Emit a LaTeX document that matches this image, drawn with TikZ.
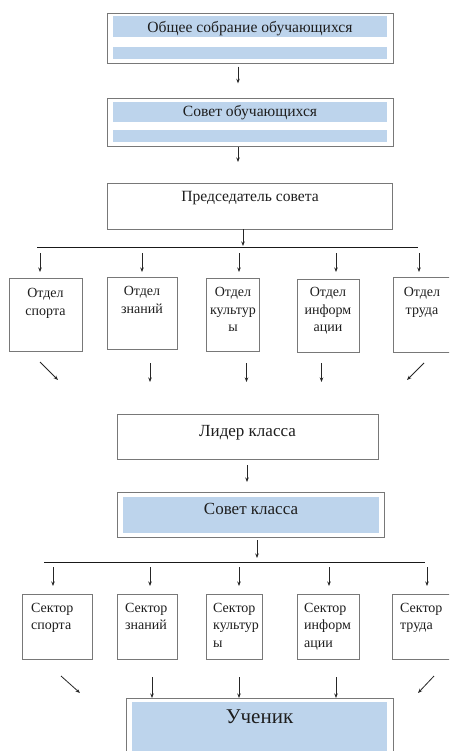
\documentclass[tikz,border=0pt]{standalone}
\usepackage{fontspec}
\setmainfont{Liberation Serif}
\usetikzlibrary{arrows.meta,fit}
\definecolor{lblue}{RGB}{189,212,236}
\definecolor{boxgray}{RGB}{120,120,120}
\definecolor{txtc}{RGB}{30,30,30}
\tikzset{
  box/.style={draw=boxgray, line width=0.9pt, inner sep=0pt},
  band/.style={fill=lblue, draw=none, inner sep=0pt},
  arr/.style={-{Stealth[length=4.5pt,width=3.5pt]}, line width=0.8pt, draw=black!85},
  bus/.style={line width=1.8pt, draw=black!90},
  txt/.style={anchor=base, inner sep=0pt, text=txtc, font=\fontsize{14}{16}\selectfont},
  ltxt/.style={txt, anchor=base west},
  mid/.style={txt, font=\fontsize{15.6}{18}\selectfont},
  mid2/.style={txt, font=\fontsize{17}{20}\selectfont},
  big/.style={txt, font=\fontsize{21}{24}\selectfont}
}
\begin{document}
\begin{tikzpicture}[x=1pt,y=-1pt]
\useasboundingbox (0,0) rectangle (449,751);
\clip (0,0) rectangle (449,751);
\fill[white] (0,0) rectangle (449,751);

% top box
\node[box, fit={(107,13.3) (393,63.3)}] (gen) {};
\node[band, fit={(113,15.7) (387,36.7)}] (genb1) {};
\node[band, fit={(113,46.7) (387,59.3)}] (genb2) {};
\node[mid] (gent) at (250,32.5) {Общее собрание обучающихся};

\coordinate (a1s) at (238,66.7);
\coordinate (a1e) at (238,83.3);
\draw[arr] (a1s) -- (a1e);

% council of students
\node[box, fit={(107,98.3) (393,146)}] (sov) {};
\node[band, fit={(113,101.7) (387,121.7)}] (sovb1) {};
\node[band, fit={(113,130) (387,141.7)}] (sovb2) {};
\node[mid] (sovt) at (250,117) {Совет обучающихся};

\coordinate (a2s) at (238,146.7);
\coordinate (a2e) at (238,162);
\draw[arr] (a2s) -- (a2e);

% chairman
\node[box, fit={(107,183) (392,229)}] (pred) {};
\node[mid] (predt) at (250,202) {Председатель совета};

\coordinate (a3s) at (243,229);
\coordinate (a3e) at (243,246);
\draw[arr] (a3s) -- (a3e);

\coordinate (busL) at (37,247.5);
\coordinate (busR) at (418,247.5);
\draw[bus] (busL) -- (busR);

% arrows to departments
\foreach \x/\n in {40/1,142/2,239/3,336/4,419/5}{
  \coordinate (d\n s) at (\x,253);
  \coordinate (d\n e) at (\x,272);
  \draw[arr] (d\n s) -- (d\n e);
}

% departments
\node[box, fit={(9,278) (82,351)}] (o1) {};
\node[box, fit={(107,277) (177,349)}] (o2) {};
\node[box, fit={(206,278) (259,351)}] (o3) {};
\node[box, fit={(297,279) (359,352)}] (o4) {};
\node[box, fit={(393,277) (452,352)}] (o5) {};

\node[txt] (o1a) at (45.5,297.5) {Отдел};
\node[txt] (o1b) at (45.5,315) {спорта};
\node[txt] (o2a) at (142,295.5) {Отдел};
\node[txt] (o2b) at (142,313) {знаний};
\node[txt] (o3a) at (233,296.5) {Отдел};
\node[txt] (o3b) at (233,314) {культур};
\node[txt] (o3c) at (233,331.5) {ы};
\node[txt] (o4a) at (328,296.5) {Отдел};
\node[txt] (o4b) at (328,314) {информ};
\node[txt] (o4c) at (328,331.5) {ации};
\node[txt] (o5a) at (422,296.5) {Отдел};
\node[txt] (o5b) at (422,314) {труда};

% arrows below departments
\coordinate (b1s) at (40,362);   \coordinate (b1e) at (58,380);
\coordinate (b2s) at (150,363);  \coordinate (b2e) at (150,382);
\coordinate (b3s) at (246.5,363);\coordinate (b3e) at (246.5,382);
\coordinate (b4s) at (321.5,363);\coordinate (b4e) at (321.5,382);
\coordinate (b5s) at (424,363);  \coordinate (b5e) at (407,380);
\foreach \n in {1,...,5}{\draw[arr] (b\n s) -- (b\n e);}

% class leader
\node[box, fit={(117,414) (378,459)}] (lid) {};
\node[mid2] (lidt) at (247.5,436) {Лидер класса};

\coordinate (c1s) at (247,465);
\coordinate (c1e) at (247,482);
\draw[arr] (c1s) -- (c1e);

% class council
\node[box, fit={(117,492) (384,537)}] (skl) {};
\node[band, fit={(123,497) (379,533)}] (sklb) {};
\node[mid2] (sklt) at (251,514) {Совет класса};

\coordinate (c2s) at (257,540);
\coordinate (c2e) at (257,558);
\draw[arr] (c2s) -- (c2e);

\coordinate (bus2L) at (44,562.5);
\coordinate (bus2R) at (425,562.5);
\draw[bus] (bus2L) -- (bus2R);

\foreach \x/\n in {53/1,150/2,239/3,329/4,427/5}{
  \coordinate (e\n s) at (\x,567);
  \coordinate (e\n e) at (\x,586);
  \draw[arr] (e\n s) -- (e\n e);
}

% sectors
\node[box, fit={(22,594) (92,659)}] (s1) {};
\node[box, fit={(117,594) (177,659)}] (s2) {};
\node[box, fit={(206,594) (262,659)}] (s3) {};
\node[box, fit={(297,594) (359,659)}] (s4) {};
\node[box, fit={(392,594) (452,659)}] (s5) {};

\node[ltxt] (s1a) at (31,612) {Сектор};
\node[ltxt] (s1b) at (31,629.5) {спорта};
\node[ltxt] (s2a) at (125,612) {Сектор};
\node[ltxt] (s2b) at (125,629.5) {знаний};
\node[ltxt] (s3a) at (213,612) {Сектор};
\node[ltxt] (s3b) at (213,629.5) {культур};
\node[ltxt] (s3c) at (213,647) {ы};
\node[ltxt] (s4a) at (304,612) {Сектор};
\node[ltxt] (s4b) at (304,629.5) {информ};
\node[ltxt] (s4c) at (304,647) {ации};
\node[ltxt] (s5a) at (400,612) {Сектор};
\node[ltxt] (s5b) at (400,629.5) {труда};

% arrows to pupil
\coordinate (f1s) at (61,676);   \coordinate (f1e) at (80,693);
\coordinate (f2s) at (152,677);  \coordinate (f2e) at (152,698);
\coordinate (f3s) at (239,677);  \coordinate (f3e) at (239,698);
\coordinate (f4s) at (336,677);  \coordinate (f4e) at (336,698);
\coordinate (f5s) at (434,676);  \coordinate (f5e) at (418,693);

% pupil
\node[box, fit={(126,698) (393,770)}] (uch) {};
\node[band, fit={(132,702) (387,770)}] (uchb) {};
\node[big] (ucht) at (259.5,723) {Ученик};

\foreach \n in {1,...,5}{\draw[arr] (f\n s) -- (f\n e);}
\end{tikzpicture}
\end{document}
